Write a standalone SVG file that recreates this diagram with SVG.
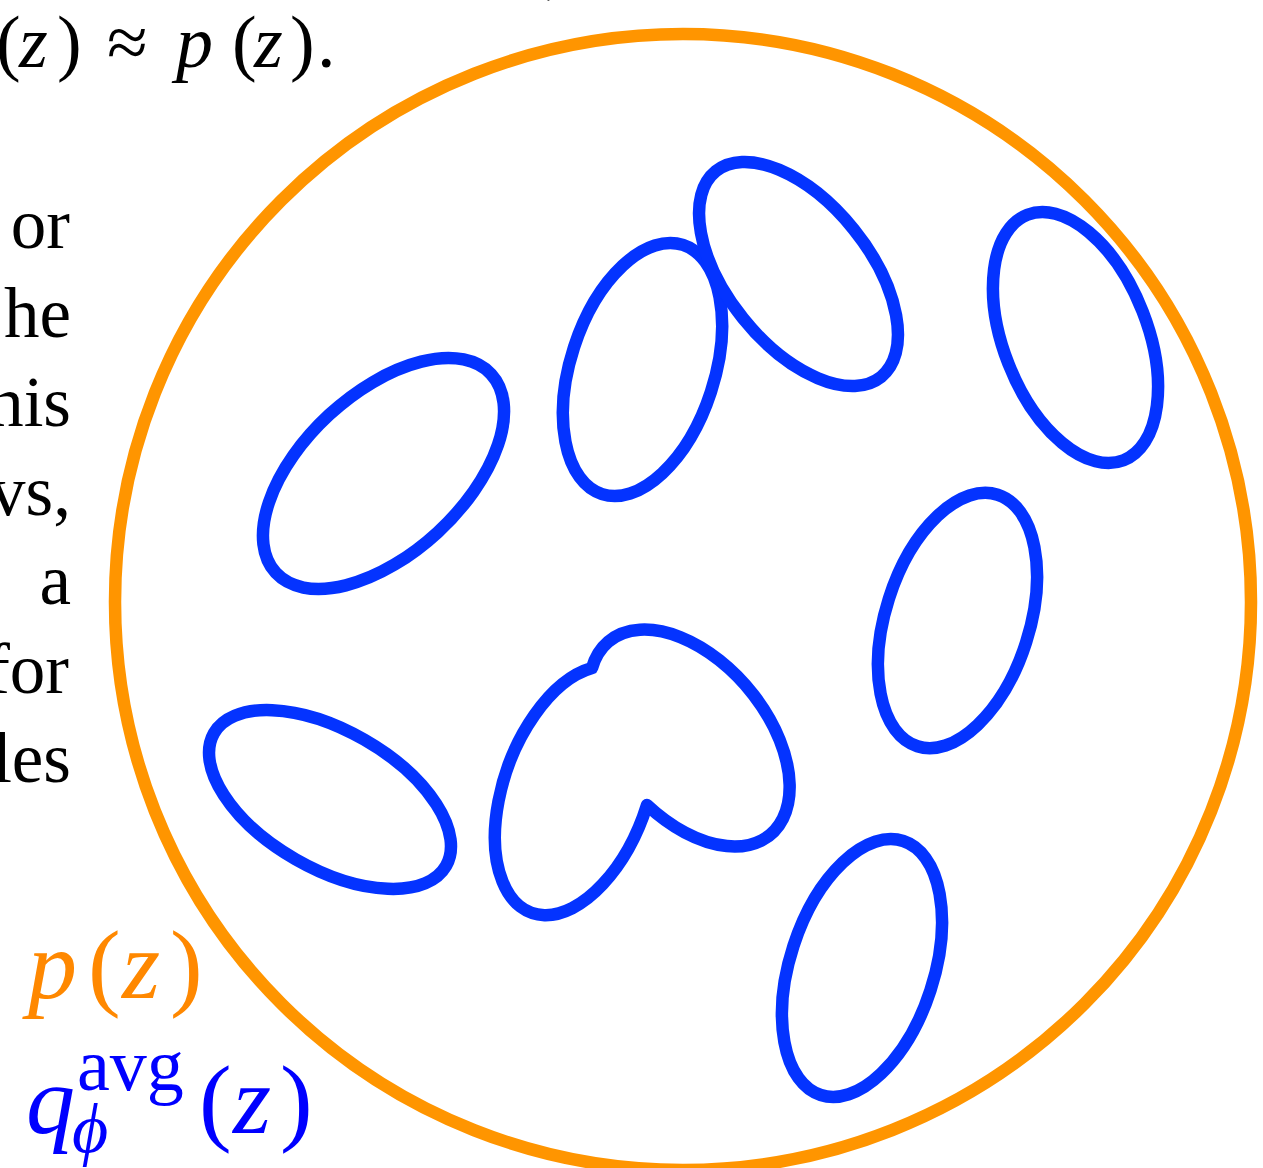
<svg xmlns="http://www.w3.org/2000/svg" width="1263" height="1168" viewBox="0 0 1263 1168">
<style>
.bg{fill:#ffffff}
.outer{fill:none;stroke:#ff9500;stroke-width:12.5}
.q{fill:none;stroke:#0433ff;stroke-width:12.5;stroke-linejoin:round}
.t{font-family:"Liberation Serif","Times New Roman",serif;fill:#000000}
.it{font-style:italic}
.lbl{font-family:"Liberation Serif","Times New Roman",serif}
</style>
<rect class="bg" x="0" y="0" width="1263" height="1168"/>
<g id="text-top">
<text class="t" x="545" y="-10" font-size="70">,</text>
<text class="t" y="67" font-size="74"><tspan x="-4">(</tspan><tspan class="it" x="19">z</tspan><tspan x="57">)</tspan><tspan x="107">≈</tspan><tspan class="it" x="176">p</tspan><tspan x="232">(</tspan><tspan class="it" x="254">z</tspan><tspan x="290">)</tspan><tspan x="317">.</tspan></text>
</g>
<g id="text-left" class="t" font-size="71" text-anchor="end">
<text x="70" y="248">or</text>
<text x="71" y="337">he</text>
<text x="71" y="426">nis</text>
<text x="71" y="515">vs,</text>
<text x="71" y="604">a</text>
<text x="69" y="693">for</text>
<text x="71" y="782">les</text>
</g>
<g id="prior">
<circle class="outer" cx="683" cy="602" r="568"/>
</g>
<g id="posteriors">
<ellipse id="q1" class="q" cx="0" cy="0" rx="146.5" ry="80" transform="translate(383.5 473.5) rotate(-42.7)"/>
<ellipse id="q2" class="q" cx="0" cy="0" rx="72" ry="131" transform="translate(642.5 369.5) rotate(18)"/>
<ellipse id="q3" class="q" cx="0" cy="0" rx="71" ry="131.9" transform="translate(798.5 274) rotate(-38.8)"/>
<ellipse id="q4" class="q" cx="0" cy="0" rx="72" ry="131.8" transform="translate(1075.5 337.5) rotate(-21.4)"/>
<ellipse id="q5" class="q" cx="0" cy="0" rx="72" ry="132" transform="translate(957.5 620.5) rotate(17.7)"/>
<ellipse id="q6" class="q" cx="0" cy="0" rx="72" ry="133.5" transform="translate(862 968) rotate(18)"/>
<ellipse id="q7" class="q" cx="0" cy="0" rx="133.7" ry="69" transform="translate(330 799.5) rotate(29.8)"/>
<path id="q8" class="q" d="M 592 668 A 77 126 -40 1 1 647 805 A 72 130 20 1 1 592 668 Z"/>
</g>
<g id="legend">
<text class="lbl" fill="#ff8800" y="998" font-size="98"><tspan class="it" x="28">p</tspan><tspan x="88">(</tspan><tspan class="it" x="122">z</tspan><tspan x="170">)</tspan></text>
<text class="lbl" fill="#0000ff" font-size="98"><tspan class="it" x="26" y="1133">q</tspan><tspan x="77" y="1090" font-size="74">avg</tspan><tspan class="it" x="72" y="1152" font-size="70">ϕ</tspan><tspan x="199" y="1133">(</tspan><tspan class="it" x="233" y="1133">z</tspan><tspan x="280" y="1133">)</tspan></text>
</g>
</svg>
